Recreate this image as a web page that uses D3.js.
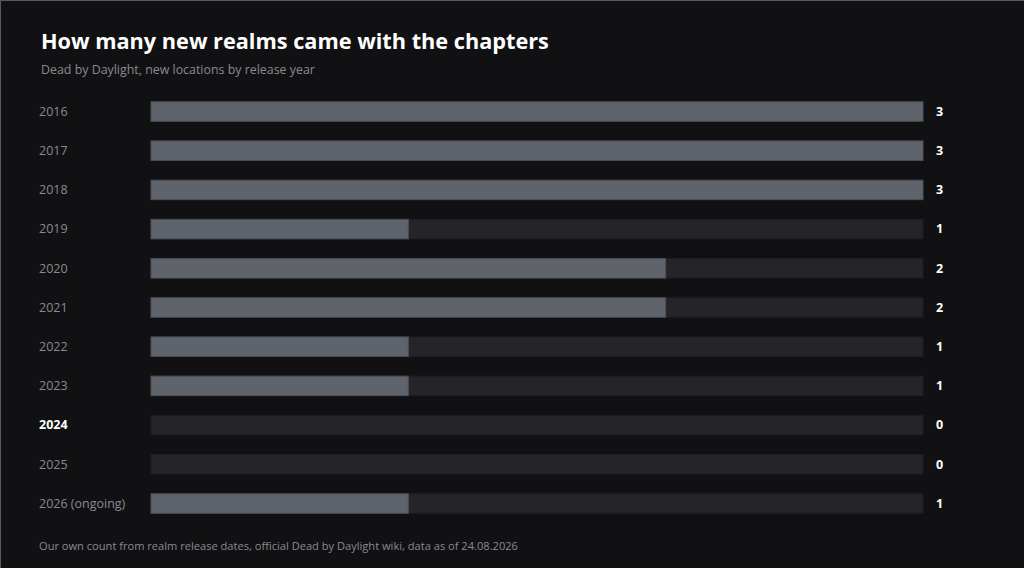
<!DOCTYPE html>
<html><head><meta charset="utf-8">
<script src="https://cdn.jsdelivr.net/npm/d3@7/dist/d3.min.js"></script>
<style>
html,body{margin:0;padding:0;background:#111113;}
svg{display:block;}
</style></head>
<body>
<svg id="chart" width="1024" height="568"></svg>
<script>
const categories = ["2016","2017","2018","2019","2020","2021","2022","2023","2024","2025","2026 (ongoing)"];
const values = [3,3,3,1,2,2,1,1,0,0,1];
const highlighted = ["2024"];
const xTicks = [0,1,2,3];

const svg = d3.select("#chart");
const W = 1024, H = 568;
const font = "'Open Sans', 'Noto Sans', sans-serif";

svg.append("rect").attr("width",W).attr("height",H).attr("fill","#111113");
svg.append("line").attr("x1",0).attr("x2",W).attr("y1",0.5).attr("y2",0.5).attr("stroke","#5a5a5e");
svg.append("line").attr("x1",0.5).attr("x2",0.5).attr("y1",0).attr("y2",H).attr("stroke","#5a5a5e");

svg.append("text").attr("x",41).attr("y",49).text("How many new realms came with the chapters")
  .attr("fill","#ffffff").attr("font-family",font).attr("font-weight",700).attr("font-size",21.7);
svg.append("text").attr("x",41).attr("y",74).text("Dead by Daylight, new locations by release year")
  .attr("fill","#8a8a90").attr("font-family",font).attr("font-size",12.4);

const x = d3.scaleLinear().domain([0, d3.max(xTicks)]).range([151, 923]);
const y = d3.scalePoint().domain(categories).range([111.5, 503.5]);
const bh = 19.5;

const rows = svg.append("g").selectAll("g").data(categories).join("g");

rows.append("rect")
  .attr("x", x(0)).attr("y", d => y(d) - bh/2)
  .attr("width", x(3) - x(0)).attr("height", bh)
  .attr("fill", "#252529").attr("stroke","#1e1e22").attr("stroke-width",1);

rows.append("rect")
  .attr("x", x(0)).attr("y", (d) => y(d) - bh/2)
  .attr("width", (d,i) => x(values[i]) - x(0)).attr("height", bh)
  .attr("fill", "#5f636b").attr("stroke","#4b4e55").attr("stroke-width",1);

rows.append("text")
  .attr("x", 39).attr("y", d => y(d)).attr("dy","0.35em")
  .text(d => d)
  .attr("fill", d => highlighted.includes(d) ? "#ffffff" : "#8a8a90")
  .attr("font-weight", d => highlighted.includes(d) ? 700 : 400)
  .attr("font-family", font).attr("font-size", 12.5);

rows.append("text")
  .attr("x", 936).attr("y", d => y(d)).attr("dy","0.35em")
  .text((d,i) => values[i])
  .attr("fill", "#ffffff").attr("font-weight",700)
  .attr("font-family", font).attr("font-size", 12.5);

svg.append("text").attr("x",39).attr("y",550).text("Our own count from realm release dates, official Dead by Daylight wiki, data as of 24.08.2026")
  .attr("fill","#8a8a90").attr("font-family",font).attr("font-size",11.1);
</script>
</body></html>
